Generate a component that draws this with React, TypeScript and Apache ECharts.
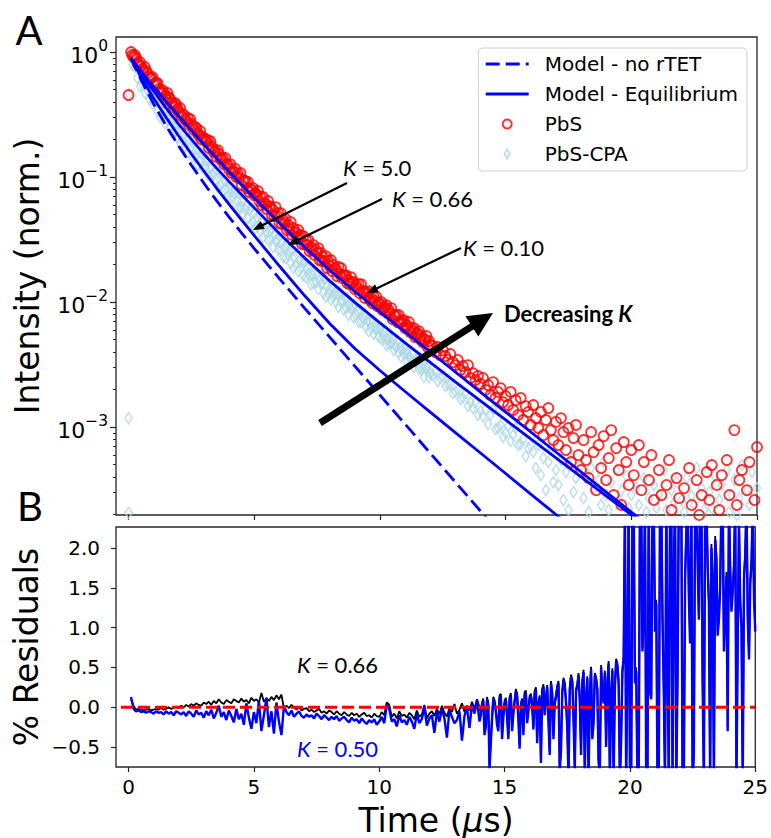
import { useEffect, useRef } from 'react';
import * as echarts from 'echarts';

// Transient traces are binned every 0.1 µs; the first bin sits at 0.1 µs.
// Early part of each trace is also read on the interleaved half bins (0.15, 0.25, ...).
const BIN_US = 0.1;
const HALF_BIN_START = 0.15;
const RESIDUAL_HALF_BIN_START = 14.05;

// Normalised PL intensity, PbS (one value per bin)
const pbsIntensity = [
  1.0, 0.912, 0.895, 0.787, 0.773, 0.692, 0.705, 0.631, 0.619, 0.555,
  0.565, 0.506, 0.47, 0.47, 0.421, 0.437, 0.398, 0.363, 0.377, 0.331,
  0.308, 0.313, 0.281, 0.261, 0.266, 0.238, 0.247, 0.217, 0.201, 0.205,
  0.191, 0.171, 0.177, 0.158, 0.145, 0.153, 0.137, 0.127, 0.127, 0.116,
  0.108, 0.11, 0.1, 0.0982, 0.0863, 0.0929, 0.0817, 0.0759, 0.0787, 0.0718,
  0.0718, 0.0643, 0.0597, 0.0619, 0.0555, 0.0586, 0.0497, 0.0488, 0.0488, 0.0429,
  0.0421, 0.0429, 0.0377, 0.0384, 0.0344, 0.0357, 0.0325, 0.0331, 0.0291, 0.0291,
  0.0286, 0.0256, 0.0261, 0.0238, 0.0247, 0.0217, 0.0213, 0.0213, 0.0187, 0.0194,
  0.0177, 0.0184, 0.0161, 0.0168, 0.0156, 0.0161, 0.0142, 0.0139, 0.0142, 0.0127,
  0.0129, 0.0118, 0.0122, 0.0108, 0.0116, 0.0104, 0.00982, 0.0102, 0.00929, 0.00964,
  0.00863, 0.00912, 0.00817, 0.00817, 0.00731, 0.00773, 0.00692, 0.00679, 0.00705, 0.00619,
  0.00643, 0.00575, 0.00586, 0.00525, 0.00565, 0.00506, 0.00479, 0.00497, 0.00437, 0.00453,
  0.00445, 0.00398, 0.00437, 0.00377, 0.00413, 0.0037, 0.00344, 0.00384, 0.00331, 0.00313,
  0.00344, 0.00286, 0.00308, 0.00275, 0.00313, 0.00247, 0.0027, 0.00238, 0.00256, 0.00221,
  0.00247, 0.00198, 0.00217, 0.0018, 0.00229, 0.00171, 0.00191, 0.00205, 0.00158, 0.00177,
  0.0015, 0.00191, 0.00137, 0.00164, 0.00125, 0.00171, 0.00114, 0.00147, 0.00132, 0.00104,
  0.0015, 0.00118, 9.82e-4, 0.00132, 8.63e-4, 0.00114, 0.00142, 9.46e-4, 7.87e-4, 0.0011,
  7.18e-4, 0.00118, 9.12e-4, 6.55e-4, 9.82e-4, 5.25e-4, 8.17e-4, 0.00104, 5.97e-4, 4.53e-4,
  7.87e-4, 5.45e-4, 3.91e-4, 9.12e-4, 6.31e-4, 3.13e-4, 7.18e-4, 4.7e-4, 8.47e-4, 3.77e-4,
  5.65e-4, 9.46e-4, 2.86e-4, 6.79e-4, 4.53e-4, 2.38e-4, 7.59e-4, 5.25e-4, 3.44e-4, 6.55e-4,
  4.13e-4, 1.8e-4, 7.18e-4, 3.13e-4, 5.25e-4, 1.5e-4, 3.77e-4, 5.97e-4, 2.61e-4, 1.25e-4,
  4.53e-4, 2.86e-4, 1.64e-4, 3.44e-4, 5.45e-4, 2.17e-4, 1.14e-4, 3.91e-4, 2.7e-4, 1.5e-4,
  3.25e-4, 1.8e-4, 4.7e-4, 2.38e-4, 1.04e-4, 3.77e-4, 1.98e-4, 2.86e-4, 1.37e-4, 4.37e-4,
  2.61e-4, 4.97e-4, 1.5e-4, 3.44e-4, 2.17e-4, 4.13e-4, 1.14e-4, 5.45e-4, 2.86e-4, 1.8e-4,
  9.46e-4, 2.38e-4, 3.77e-4, 4.53e-4, 1.64e-4, 3.13e-4, 5.25e-4, 1.25e-4, 2.61e-4, 6.92e-4,
];
// PbS on the half bins, 0.15 ... 11.95 µs
const pbsIntensityHalfBin = [
  0.946, 0.946, 0.817, 0.832, 0.731, 0.759, 0.679, 0.619, 0.631,
  0.565, 0.565, 0.488, 0.497, 0.445, 0.47, 0.421, 0.384, 0.391, 0.35,
  0.357, 0.319, 0.291, 0.297, 0.291, 0.256, 0.251, 0.225, 0.233, 0.209,
  0.198, 0.198, 0.194, 0.168, 0.161, 0.164, 0.142, 0.142, 0.142, 0.125,
  0.127, 0.112, 0.116, 0.106, 0.108, 0.0946, 0.0929, 0.0912, 0.0802, 0.0817,
  0.0745, 0.0773, 0.0692, 0.0692, 0.0608, 0.0643, 0.0575, 0.0545, 0.0575, 0.0515,
  0.0515, 0.0453, 0.0461, 0.0413, 0.0437, 0.0391, 0.0363, 0.0377, 0.0344, 0.0337,
  0.0313, 0.0313, 0.0275, 0.0286, 0.0261, 0.027, 0.0247, 0.0229, 0.0233, 0.0213,
  0.0217, 0.0198, 0.0184, 0.0191, 0.0187, 0.0164, 0.0164, 0.015, 0.0158, 0.0145,
  0.0137, 0.0139, 0.0139, 0.0122, 0.012, 0.0122, 0.0108, 0.011, 0.011, 0.00982,
  0.01, 0.00895, 0.00946, 0.00863, 0.00895, 0.00787, 0.00787, 0.00787, 0.00692, 0.00718,
  0.00655, 0.00692, 0.00619, 0.00619, 0.00555, 0.00586, 0.00535, 0.00506, 0.00535, 0.00488,
];

// Normalised PL intensity, PbS-CPA (one value per bin)
const cpaIntensity = [
  1.0, 0.895, 0.847, 0.731, 0.731, 0.643, 0.586, 0.575, 0.506, 0.506,
  0.445, 0.437, 0.384, 0.391, 0.35, 0.319, 0.325, 0.291, 0.27, 0.27,
  0.251, 0.221, 0.229, 0.201, 0.194, 0.194, 0.168, 0.168, 0.153, 0.153,
  0.137, 0.137, 0.12, 0.127, 0.112, 0.108, 0.108, 0.0929, 0.0946, 0.0847,
  0.0863, 0.0745, 0.0745, 0.0745, 0.0643, 0.0655, 0.0586, 0.0545, 0.0575, 0.0515,
  0.047, 0.0497, 0.0437, 0.0398, 0.0421, 0.037, 0.0384, 0.0344, 0.0319, 0.0331,
  0.0297, 0.0275, 0.0291, 0.0256, 0.0261, 0.0229, 0.0242, 0.0213, 0.0209, 0.0213,
  0.0187, 0.0194, 0.0168, 0.0171, 0.0168, 0.015, 0.0142, 0.0153, 0.0134, 0.0127,
  0.0132, 0.0118, 0.0116, 0.012, 0.0104, 0.0106, 0.0108, 0.00946, 0.00929, 0.00946,
  0.00847, 0.00863, 0.00759, 0.00802, 0.00705, 0.00705, 0.00718, 0.00619, 0.00619, 0.00619,
  0.00555, 0.00586, 0.00506, 0.00515, 0.00515, 0.00445, 0.00488, 0.00429, 0.00421, 0.00429,
  0.00391, 0.00357, 0.00391, 0.00337, 0.00344, 0.00357, 0.00297, 0.00302, 0.00308, 0.0027,
  0.00261, 0.00281, 0.00233, 0.00247, 0.00256, 0.00213, 0.00217, 0.00221, 0.00187, 0.00191,
  0.00201, 0.00168, 0.00171, 0.00187, 0.00147, 0.00158, 0.00142, 0.00158, 0.00125, 0.00134,
  0.00122, 0.00139, 0.00106, 0.00125, 0.00139, 9.64e-4, 9.82e-4, 0.00104, 8.32e-4, 8.95e-4,
  0.00102, 7.73e-4, 8.63e-4, 9.82e-4, 7.18e-4, 7.31e-4, 8.02e-4, 5.86e-4, 6.79e-4, 7.05e-4,
  6.31e-4, 4.7e-4, 7.18e-4, 4.13e-4, 5.65e-4, 3.13e-4, 5.25e-4, 6.79e-4, 3.63e-4, 4.53e-4,
  3.44e-4, 5.45e-4, 2.61e-4, 4.37e-4, 2.17e-4, 5.97e-4, 3.02e-4, 3.91e-4, 1.8e-4, 4.97e-4,
  2.7e-4, 4.13e-4, 2.09e-4, 4.7e-4, 3.25e-4, 1.5e-4, 3.77e-4, 2.38e-4, 5.25e-4, 2.86e-4,
  2.17e-4, 3.63e-4, 1.64e-4, 4.53e-4, 2.61e-4, 3.13e-4, 1.25e-4, 4.06e-4, 2.25e-4, 2.86e-4,
  1.8e-4, 3.25e-4, 2.38e-4, 1.37e-4, 3.91e-4, 2.09e-4, 2.7e-4, 1.14e-4, 3.44e-4, 2.25e-4,
  2.86e-4, 1.5e-4, 4.53e-4, 2.17e-4, 1.04e-4, 3.13e-4, 2.47e-4, 3.63e-4, 1.64e-4, 2.61e-4,
  2.09e-4, 3.91e-4, 1.25e-4, 2.81e-4, 2.38e-4, 4.7e-4, 1.56e-4, 3.25e-4, 2.17e-4, 1.14e-4,
  3.02e-4, 2.25e-4, 4.13e-4, 1.8e-4, 2.61e-4, 3.44e-4, 1.37e-4, 4.53e-4, 2.09e-4, 2.86e-4,
  3.77e-4, 1.98e-4, 2.7e-4, 4.97e-4, 1.5e-4, 3.13e-4, 2.38e-4, 4.37e-4, 1.8e-4, 3.25e-4,
];
// PbS-CPA on the half bins, 0.15 ... 11.95 µs
const cpaIntensityHalfBin = [
  0.787, 0.759, 0.619, 0.535, 0.555, 0.47, 0.497, 0.421, 0.384,
  0.391, 0.337, 0.302, 0.308, 0.27, 0.286, 0.247, 0.225, 0.233, 0.205,
  0.187, 0.194, 0.174, 0.156, 0.168, 0.145, 0.145, 0.125, 0.137, 0.118,
  0.12, 0.104, 0.102, 0.106, 0.0895, 0.0832, 0.0863, 0.0759, 0.0802, 0.0692,
  0.0679, 0.0692, 0.0575, 0.0565, 0.0575, 0.0506, 0.0545, 0.047, 0.0421, 0.0437,
  0.0391, 0.0406, 0.037, 0.0331, 0.0363, 0.0313, 0.0319, 0.0275, 0.0308, 0.0261,
  0.0261, 0.0229, 0.0225, 0.0238, 0.0205, 0.0187, 0.0198, 0.0177, 0.0187, 0.0164,
  0.0158, 0.0168, 0.0139, 0.0142, 0.0145, 0.0127, 0.0139, 0.0118, 0.011, 0.0116,
  0.0104, 0.011, 0.01, 0.00912, 0.01, 0.00879, 0.00895, 0.00787, 0.00879, 0.00759,
  0.00787, 0.00692, 0.00692, 0.00731, 0.00631, 0.00586, 0.00619, 0.00555, 0.00597, 0.00525,
  0.00506, 0.00535, 0.00453, 0.00461, 0.0047, 0.00413, 0.00437, 0.00391, 0.00363, 0.00384,
  0.00344, 0.00363, 0.00331, 0.00302, 0.00331, 0.00291, 0.00286, 0.00251, 0.00291, 0.00251,
];

// Bins recorded at t = 0 (rising edge of the pulse)
const pbsAtZero = [0.453];
const cpaAtZero = [0.46, 1.18e-3, 2.06e-4];

// Kinetic model curves
const modelTime = [0.1, 0.5, 1, 1.5, 2, 2.5, 3, 3.5, 4, 4.5, 5, 6, 7, 8, 9, 10, 11, 12, 13, 14, 15, 16, 17, 17.5, 18, 19, 20, 20.5];
const modelNoRtet = [
  0.895, 0.597, 0.3837, 0.2559, 0.1762, 0.1242, 0.08913, 0.06486, 0.04786, 0.03565,
  0.02679, 0.01542, 0.008954, 0.005248, 0.003076, 0.001803, 0.001057, 6.19e-4, 3.63e-4, 2.13e-4,
  1.247e-4, null, null, null, null, null, null, null,
];
const modelK50 = [
  0.895, 0.6288, 0.4269, 0.2981, 0.2121, 0.1529, 0.1113, 0.08173, 0.06059, 0.04533,
  0.03406, 0.01943, 0.01128, 0.006736, 0.00425, 0.002834, 0.001925, 0.001319, 9.04e-4, 6.2e-4,
  4.25e-4, 2.91e-4, 1.998e-4, 1.653e-4, null, null, null, null,
];
const modelK066 = [
  0.895, 0.677, 0.486, 0.355, 0.2645, 0.2, 0.1528, 0.118, 0.092, 0.0721,
  0.0567, 0.0354, 0.02258, 0.01477, 0.009945, 0.006818, 0.004716, 0.003293, 0.002299, 0.001621,
  0.001142, 8.04e-4, 5.67e-4, null, 3.996e-4, 2.817e-4, 1.985e-4, 1.666e-4,
];
const modelK010 = [
  0.895, 0.7023, 0.5278, 0.4004, 0.3065, 0.2357, 0.1821, 0.1414, 0.1103, 0.08637,
  0.06798, 0.04289, 0.02757, 0.01805, 0.01215, 0.008325, 0.00576, 0.003985, 0.002757, 0.001907,
  0.001319, 9.13e-4, 6.32e-4, null, 4.37e-4, 3.02e-4, 2.09e-4, 1.74e-4,
];

// Fit residuals (%) on the 0.1 µs bins
const residualK066 = [
  0.10, 0.02, -0.03, -0.02, -0.03, -0.04, -0.03, -0.02, -0.04, -0.03,
  -0.02, -0.03, -0.01, -0.03, -0.02, 0.00, -0.02, -0.01, 0.01, -0.01,
  0.02, 0.00, 0.03, 0.01, 0.04, 0.02, 0.05, 0.03, 0.02, 0.06,
  0.04, 0.07, 0.03, 0.08, 0.05, 0.10, 0.06, 0.04, 0.09, 0.07,
  0.05, 0.10, 0.08, 0.06, 0.11, 0.07, 0.09, 0.05, 0.12, 0.08,
  0.10, 0.06, 0.18, 0.07, 0.11, 0.08, 0.13, 0.09, 0.15, 0.10,
  0.16, -0.02, 0.02, -0.01, 0.03, 0.00, -0.03, 0.01, -0.04, -0.02,
  -0.01, -0.05, -0.03, -0.06, -0.04, -0.02, -0.07, -0.05, -0.08, -0.04,
  -0.06, -0.09, -0.05, -0.08, -0.10, -0.06, -0.09, -0.11, -0.07, -0.10,
  -0.08, -0.12, -0.09, -0.07, -0.11, -0.10, -0.13, -0.08, -0.11, -0.12,
  -0.06, -0.10, 0.06, 0.03, -0.12, -0.08, -0.14, -0.05, -0.11, -0.09,
  -0.13, -0.07, -0.10, -0.15, -0.04, -0.12, -0.09, 0.03, -0.14, -0.08,
  -0.05, -0.11, -0.02, -0.09, 0.02, -0.07, -0.12, -0.01, -0.06, 0.04,
  -0.08, -0.03, 0.05, -0.06, 0.02, -0.04, 0.07, -0.02, 0.10, 0.00,
  0.06, -0.31, 0.13, -0.74, -0.12, 0.09, -0.18, 0.15, -0.36, 0.08,
  -0.09, 0.13, -0.26, 0.09, 0.17, -0.48, 0.11, 0.19, -0.16, 0.14,
  0.05, 0.21, -0.41, 0.15, 0.23, -0.07, 0.28, -0.56, 0.19, 0.08,
  0.27, -0.76, 0.20, 0.31, -0.21, 0.25, 0.35, -0.74, 0.29, 0.11,
  0.33, -0.81, 0.39, 0.18, -0.36, 0.43, 0.25, -0.76, 0.21, 0.46,
  0.31, -0.86, 0.49, 0.27, 0.55, -0.91, 0.47, 2.50, 0.59, -0.81,
  2.60, 0.34, -0.90, 2.60, 0.74, 2.55, -0.85, 0.25, 2.60, 1.00,
  -0.90, 2.60, 1.15, -0.90, 0.65, 2.60, -0.85, 2.60, 0.45, 2.60,
  -0.90, 1.65, 2.60, 0.85, -0.90, 2.60, 1.95, 2.60, 0.35, 2.60,
  1.80, -0.90, 1.65, 2.15, 0.95, 1.55, 2.60, 1.25, -0.25, 1.75,
  1.50, 2.60, 0.90, 1.35, -0.90, 1.95, 1.15, 1.60, 2.60, 1.00,
];
const residualK050 = [
  0.13, -0.02, -0.05, -0.04, -0.06, -0.05, -0.07, -0.05, -0.06, -0.08,
  -0.05, -0.07, -0.06, -0.09, -0.05, -0.08, -0.06, -0.10, -0.05, -0.07,
  -0.09, -0.06, -0.11, -0.05, -0.08, -0.12, -0.04, -0.09, -0.07, -0.13,
  -0.05, -0.10, -0.03, -0.14, -0.07, 0.02, -0.12, -0.06, -0.16, -0.04,
  -0.11, -0.19, -0.02, -0.15, -0.08, -0.22, 0.05, -0.13, -0.27, -0.06,
  -0.20, 0.08, -0.30, -0.10, 0.12, -0.25, -0.05, -0.33, 0.06, -0.18,
  -0.35, 0.02, -0.06, -0.10, -0.04, -0.12, -0.08, -0.05, -0.11, -0.13,
  -0.09, -0.12, -0.10, -0.14, -0.08, -0.11, -0.15, -0.10, -0.13, -0.16,
  -0.12, -0.15, -0.11, -0.17, -0.14, -0.12, -0.16, -0.19, -0.13, -0.17,
  -0.15, -0.20, -0.14, -0.18, -0.21, -0.16, -0.19, -0.15, -0.22, -0.18,
  -0.12, -0.20, 0.03, -0.02, -0.18, -0.15, -0.24, -0.10, -0.19, -0.16,
  -0.22, -0.12, -0.18, -0.27, -0.08, -0.20, -0.15, 0.01, -0.23, -0.14,
  -0.10, -0.32, -0.06, -0.18, -0.02, -0.14, -0.38, -0.04, -0.12, -0.20,
  -0.16, -0.05, -0.42, -0.11, 0.00, -0.26, 0.04, -0.08, 0.09, -0.18,
  0.03, -0.35, 0.10, -0.78, -0.15, 0.06, -0.22, 0.12, -0.40, 0.05,
  -0.12, 0.10, -0.30, 0.06, 0.14, -0.52, 0.08, 0.16, -0.20, 0.11,
  0.02, 0.18, -0.45, 0.12, 0.20, -0.10, 0.25, -0.60, 0.16, 0.05,
  0.24, -0.80, 0.17, 0.28, -0.25, 0.22, 0.32, -0.78, 0.26, 0.08,
  0.30, -0.85, 0.36, 0.15, -0.40, 0.40, 0.22, -0.80, 0.18, 0.43,
  0.28, -0.90, 0.46, 0.24, 0.52, -0.95, 0.44, 2.50, 0.56, -0.85,
  2.60, 0.30, -0.95, 2.60, 0.70, 2.55, -0.90, 0.20, 2.60, 0.95,
  -0.95, 2.60, 1.10, -0.95, 0.60, 2.60, -0.90, 2.60, 0.40, 2.60,
  -0.95, 1.60, 2.60, 0.80, -0.95, 2.60, 1.80, 2.60, 0.30, 2.60,
  1.75, -0.95, 1.60, 2.10, 0.90, 1.50, 2.60, 1.20, -0.30, 1.70,
  1.45, 2.60, 0.85, 1.30, -0.95, 1.90, 1.10, 1.55, 2.60, 0.95,
];
// Residuals on the half bins of the noisy tail, 14.05 ... 24.95 µs
const residualK066HalfBin = [
  -0.07, 0.11, -0.21, 0.05, -0.41, 0.13, -0.02, -0.26, 0.17, -0.09,
  0.12, -0.36, 0.18, -0.05, 0.23, -0.12, 0.05, -0.31, 0.21, -0.02,
  0.17, -0.24, 0.25, 0.07, -0.66, 0.29, 0.13, -0.14, 0.33, -0.36,
  0.15, 0.33, -0.51, 0.37, 0.09, -0.86, 0.41, -0.11, 0.23, 0.43,
  -0.56, 0.47, 0.13, -0.86, 0.51, -0.16, 0.38, -0.66, 0.53, 0.08,
  -0.46, 0.58, 0.18, -0.86, 0.61, 0.33, -0.36, 0.65, -0.91, 2.60,
  -0.90, 2.60, 0.50, -0.90, 2.60, 1.25, -0.90, 2.60, 0.15, 2.60,
  1.35, -0.90, 2.60, 0.25, 2.60, -0.90, 2.60, 1.75, -0.90, 2.60,
  2.60, -0.90, 2.25, 1.45, 2.60, -0.55, 2.60, 1.15, 2.60, -0.90,
  2.60, 1.35, 2.05, -0.90, 1.90, 1.15, 2.60, 0.75, 1.70, 2.60,
  1.25, 1.80, -0.90, 2.35, 1.05, 1.65, 2.60, 0.65, 1.85, 1.40,
];
const residualK050HalfBin = [
  -0.10, 0.08, -0.25, 0.02, -0.45, 0.10, -0.05, -0.30, 0.14, -0.12,
  0.09, -0.40, 0.15, -0.08, 0.20, -0.15, 0.02, -0.35, 0.18, -0.05,
  0.14, -0.28, 0.22, 0.04, -0.70, 0.26, 0.10, -0.18, 0.30, -0.40,
  0.12, 0.30, -0.55, 0.34, 0.06, -0.90, 0.38, -0.15, 0.20, 0.40,
  -0.60, 0.44, 0.10, -0.90, 0.48, -0.20, 0.35, -0.70, 0.50, 0.05,
  -0.50, 0.55, 0.15, -0.90, 0.58, 0.30, -0.40, 0.62, -0.95, 2.60,
  -0.95, 2.60, 0.45, -0.95, 2.60, 1.20, -0.95, 2.60, 0.10, 2.60,
  1.30, -0.95, 2.60, 0.20, 2.60, -0.95, 2.60, 1.70, -0.95, 2.60,
  2.60, -0.95, 2.20, 1.40, 2.60, -0.60, 2.60, 1.10, 2.60, -0.95,
  2.60, 1.30, 2.00, -0.95, 1.85, 1.10, 2.60, 0.70, 1.65, 2.60,
  1.20, 1.75, -0.95, 2.30, 1.00, 1.60, 2.60, 0.60, 1.80, 1.35,
];
const zeroLineTime = [-0.3, 25];
const zeroLineValue = [0, 0];

// Axis ranges and ticks
const timeRange = [-0.5, 25];
const intensityRange = [1.98e-4, 1.32];
const residualRange = [-0.75, 2.264];
const timeTicks = [0, 5, 10, 15, 20, 25];
const intensityTicks = [1e-3, 1e-2, 1e-1, 1];
const residualTicks = [-0.5, 0, 0.5, 1, 1.5, 2];

const FONT = "'DejaVu Sans', sans-serif";
const NOTE_FONT = "Lato, 'Open Sans', sans-serif";
const FRAME = '#262626';
const BLUE = '#0000ff';
const DASH = [14, 6];

const lg = (v: number) => Math.log10(v);
const binTime = (i: number) => (i + 1) * BIN_US;

// log-scale positions of the minor ticks (2..9 x 10^n) inside the shown range
const minorLogTicks: number[] = [];
for (let e = -4; e <= 0; e++) {
  for (let m = 2; m <= 9; m++) {
    const v = m * Math.pow(10, e);
    if (v >= intensityRange[0] && v <= intensityRange[1]) minorLogTicks.push(lg(v));
  }
}

const traceData = (atZero: number[], values: number[], halfBins: number[]) => [
  ...atZero.map((v) => [0, lg(v)]),
  ...values.map((v, i) => [binTime(i), lg(v)]),
  ...halfBins.map((v, i) => [HALF_BIN_START + i * BIN_US, lg(v)]),
];
const modelData = (values: (number | null)[]) =>
  modelTime
    .map((t, i) => (values[i] == null ? null : [t, lg(values[i] as number)]))
    .filter((p) => p !== null);
const residualData = (values: number[], halfBins: number[]) =>
  [
    ...values.map((v, i) => [binTime(i), v]),
    ...halfBins.map((v, i) => [RESIDUAL_HALF_BIN_START + i * BIN_US, v]),
  ].sort((a, b) => a[0] - b[0]);

const tickLine = { color: FRAME, width: 1.2 };

function arrow(x1: number, y1: number, x2: number, y2: number, w: number, headLen: number, headHalf: number) {
  const dx = x2 - x1;
  const dy = y2 - y1;
  const len = Math.hypot(dx, dy);
  const ux = dx / len;
  const uy = dy / len;
  const bx = x2 - ux * headLen;
  const by = y2 - uy * headLen;
  const px = -uy;
  const py = ux;
  return [
    { type: 'line', z: 100, shape: { x1, y1, x2: bx + ux, y2: by + uy }, style: { stroke: '#000', lineWidth: w } },
    {
      type: 'polygon',
      z: 100,
      shape: { points: [[x2, y2], [bx + px * headHalf, by + py * headHalf], [bx - px * headHalf, by - py * headHalf]] },
      style: { fill: '#000' },
    },
  ];
}

function kLabel(x: number, y: number, value: string, color: string) {
  return {
    type: 'text',
    z: 100,
    x,
    y,
    style: {
      text: `{i|K}{n| = ${value}}`,
      align: 'left',
      verticalAlign: 'middle',
      rich: {
        i: { fontFamily: NOTE_FONT, fontSize: 22, fontStyle: 'italic', fill: color },
        n: { fontFamily: NOTE_FONT, fontSize: 22, fill: color },
      },
    },
  };
}

function titleText(x: number, y: number, text: string, rotate: boolean, rich?: any) {
  return {
    type: 'text',
    z: 100,
    x,
    y,
    rotation: rotate ? Math.PI / 2 : 0,
    style: {
      text,
      fontFamily: FONT,
      fontSize: 33,
      fill: '#000',
      align: 'center',
      verticalAlign: 'middle',
      rich,
    },
  };
}

const lineSeries = (name: string, values: (number | null)[], dashed: boolean) => ({
  name,
  type: 'line',
  xAxisIndex: 0,
  yAxisIndex: 0,
  symbol: 'none',
  z: 3,
  lineStyle: { color: BLUE, width: 2.8, type: dashed ? DASH : 'solid' },
  data: modelData(values),
});

const option = {
  animation: false,
  backgroundColor: '#ffffff',
  textStyle: { fontFamily: FONT },
  grid: [
    { left: 116, top: 37, width: 641, height: 478, show: true, borderColor: FRAME, borderWidth: 1.3, backgroundColor: 'transparent' },
    { left: 116, top: 527, width: 641, height: 240, show: true, borderColor: FRAME, borderWidth: 1.3, backgroundColor: 'transparent' },
  ],
  legend: {
    orient: 'vertical',
    right: 24,
    top: 48,
    itemWidth: 43,
    itemHeight: 9,
    itemGap: 10,
    padding: [6, 9, 7, 6],
    borderColor: '#d0d0d0',
    borderWidth: 1,
    borderRadius: 4,
    backgroundColor: 'rgba(255,255,255,0.85)',
    selectedMode: false,
    lineStyle: { width: 2.8 },
    textStyle: { fontFamily: FONT, fontSize: 20, color: '#000', lineHeight: 20, padding: [0, 0, 0, 11] },
    data: [
      { name: 'Model - no rTET', itemStyle: { opacity: 0 } },
      { name: 'Model - Equilibrium', itemStyle: { opacity: 0 } },
      { name: 'PbS' },
      { name: 'PbS-CPA', icon: 'path://M3,0 L6,5 L3,10 L0,5 Z' },
    ],
  },
  xAxis: [
    {
      gridIndex: 0,
      type: 'value',
      min: timeRange[0],
      max: timeRange[1],
      axisLine: { show: false, onZero: false },
      splitLine: { show: false },
      axisTick: { show: true, length: 5, customValues: timeTicks, lineStyle: tickLine },
      axisLabel: { show: false },
    },
    {
      gridIndex: 1,
      type: 'value',
      min: timeRange[0],
      max: timeRange[1],
      axisLine: { show: false, onZero: false },
      splitLine: { show: false },
      axisTick: { show: true, length: 5, customValues: timeTicks, lineStyle: tickLine },
      axisLabel: {
        show: true,
        customValues: timeTicks,
        margin: 10,
        fontFamily: FONT,
        fontSize: 20,
        color: '#000',
        showMinLabel: true,
        showMaxLabel: true,
        hideOverlap: false,
      },
    },
  ],
  yAxis: [
    {
      gridIndex: 0,
      type: 'value',
      min: lg(intensityRange[0]),
      max: lg(intensityRange[1]),
      axisLine: { show: false, onZero: false },
      splitLine: { show: false },
      axisTick: { show: true, length: 6, customValues: intensityTicks.map(lg), lineStyle: tickLine },
      axisLabel: {
        show: true,
        customValues: intensityTicks.map(lg),
        margin: 8,
        showMinLabel: true,
        showMaxLabel: true,
        formatter: (v: number) => {
          const e = Math.round(v);
          return `{b|10}{s|${e < 0 ? '\u2212' + Math.abs(e) : e}}`;
        },
        rich: {
          b: { fontFamily: FONT, fontSize: 22, color: '#000', lineHeight: 28, verticalAlign: 'bottom' },
          s: { fontFamily: FONT, fontSize: 15.5, color: '#000', lineHeight: 15, verticalAlign: 'top' },
        },
      },
    },
    {
      gridIndex: 0,
      type: 'value',
      position: 'left',
      min: lg(intensityRange[0]),
      max: lg(intensityRange[1]),
      axisLine: { show: false, onZero: false },
      splitLine: { show: false },
      axisTick: { show: true, length: 3, customValues: minorLogTicks, lineStyle: { color: FRAME, width: 1 } },
      axisLabel: { show: false },
    },
    {
      gridIndex: 1,
      type: 'value',
      min: residualRange[0],
      max: residualRange[1],
      axisLine: { show: false, onZero: false },
      splitLine: { show: false },
      axisTick: { show: true, length: 5, customValues: residualTicks, lineStyle: tickLine },
      axisLabel: {
        show: true,
        customValues: residualTicks,
        margin: 16,
        fontFamily: FONT,
        fontSize: 20,
        color: '#000',
        showMinLabel: true,
        showMaxLabel: true,
        formatter: (v: number) => (v < 0 ? '\u2212' : '') + Math.abs(v).toFixed(1),
      },
    },
  ],
  series: [
    {
      name: 'PbS-CPA',
      type: 'scatter',
      xAxisIndex: 0,
      yAxisIndex: 0,
      symbol: 'diamond',
      symbolSize: [7, 11],
      z: 2,
      itemStyle: { color: 'rgba(0,0,0,0)', borderColor: '#add8e6', borderWidth: 1.6 },
      data: traceData(cpaAtZero, cpaIntensity, cpaIntensityHalfBin),
    },
    {
      name: 'PbS',
      type: 'scatter',
      xAxisIndex: 0,
      yAxisIndex: 0,
      symbol: 'circle',
      symbolSize: 10,
      z: 2,
      itemStyle: { color: 'rgba(0,0,0,0)', borderColor: '#ff0000', borderWidth: 1.8 },
      data: traceData(pbsAtZero, pbsIntensity, pbsIntensityHalfBin),
    },
    lineSeries('Model - no rTET', modelNoRtet, true),
    lineSeries('Model - Equilibrium', modelK50, false),
    lineSeries('Model - Equilibrium', modelK066, false),
    lineSeries('Model - Equilibrium', modelK010, false),
    {
      name: 'Residual K = 0.66',
      type: 'line',
      xAxisIndex: 1,
      yAxisIndex: 2,
      symbol: 'none',
      lineStyle: { color: '#000000', width: 1.8 },
      data: residualData(residualK066, residualK066HalfBin),
    },
    {
      name: 'Residual K = 0.50',
      type: 'line',
      xAxisIndex: 1,
      yAxisIndex: 2,
      symbol: 'none',
      lineStyle: { color: BLUE, width: 2.4 },
      data: residualData(residualK050, residualK050HalfBin),
    },
    {
      name: 'Zero',
      type: 'line',
      xAxisIndex: 1,
      yAxisIndex: 2,
      symbol: 'none',
      z: 4,
      lineStyle: { color: '#ff0000', width: 3, type: [12, 5] },
      data: zeroLineTime.map((t, i) => [t, zeroLineValue[i]]),
    },
  ],
  graphic: [
    // panel letters
    { type: 'text', z: 100, x: 29, y: 30, style: { text: 'A', fontFamily: NOTE_FONT, fontSize: 40, fill: '#000', align: 'center', verticalAlign: 'middle' } },
    { type: 'text', z: 100, x: 30, y: 506, style: { text: 'B', fontFamily: NOTE_FONT, fontSize: 40, fill: '#000', align: 'center', verticalAlign: 'middle' } },
    // axis titles
    titleText(27, 276, 'Intensity (norm.)', true),
    titleText(26, 647, '% Residuals', true),
    titleText(436, 820, '{n|Time (}{m|\u03bc}{n|s)}', false, {
      n: { fontFamily: FONT, fontSize: 33, fill: '#000' },
      m: { fontFamily: FONT, fontSize: 33, fontStyle: 'italic', fill: '#000' },
    }),
    // K annotations, panel A
    kLabel(343, 167, '5.0', '#000'),
    ...arrow(347, 183, 253, 230, 2.2, 11, 4.5),
    kLabel(392, 198, '0.66', '#000'),
    ...arrow(382, 199, 288, 245, 2.2, 11, 4.5),
    kLabel(463, 247, '0.10', '#000'),
    ...arrow(461, 248, 367, 293, 2.2, 11, 4.5),
    // trend arrow
    ...arrow(320, 423, 493, 313, 7, 25, 12),
    {
      type: 'text',
      z: 100,
      x: 504,
      y: 313,
      style: {
        text: '{b|Decreasing }{k|K}',
        align: 'left',
        verticalAlign: 'middle',
        rich: {
          b: { fontFamily: NOTE_FONT, fontSize: 22, fontWeight: 'bold', fill: '#000' },
          k: { fontFamily: NOTE_FONT, fontSize: 22, fontWeight: 'bold', fontStyle: 'italic', fill: '#000' },
        },
      },
    },
    // K annotations, panel B
    kLabel(297, 664, '0.66', '#000'),
    kLabel(297, 748, '0.50', BLUE),
  ],
};

export default function App() {
  const ref = useRef<HTMLDivElement>(null);
  useEffect(() => {
    document.body.style.margin = '0';
    const chart = echarts.init(ref.current as HTMLDivElement, undefined, { renderer: 'svg' });
    chart.setOption(option as any);
    return () => chart.dispose();
  }, []);
  return <div ref={ref} style={{ width: 771, height: 838, background: '#fff' }} />;
}
